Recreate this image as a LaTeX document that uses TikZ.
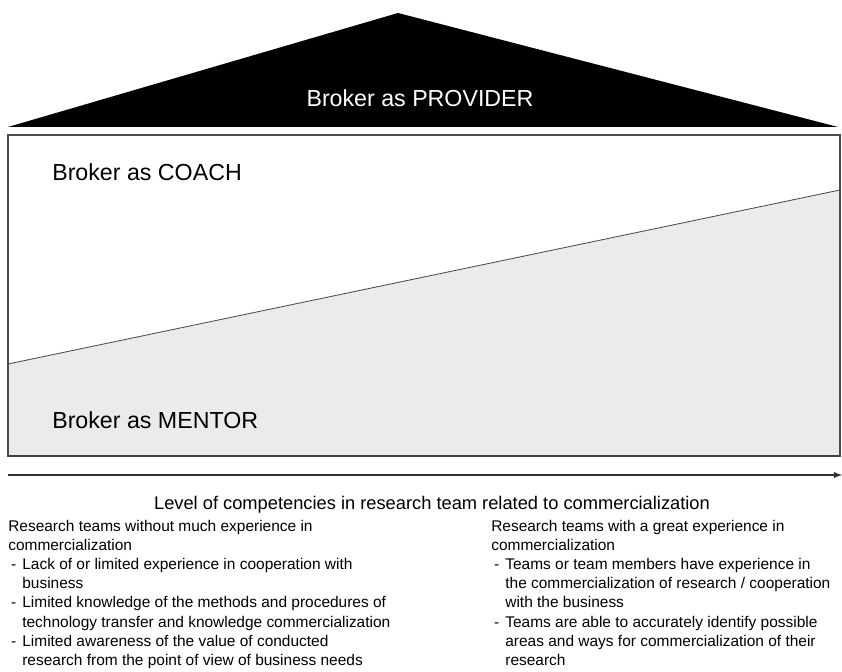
\documentclass[tikz,border=0pt]{standalone}
\usepackage{tikz}
\usepackage{fontspec}
\setmainfont{Liberation Sans}
\newcommand{\bul}{\makebox[10pt][l]{\hspace*{2pt}-}}
\newcommand{\ind}{\hspace*{10pt}}
\begin{document}
\begin{tikzpicture}[x=0.025cm,y=0.025cm,
  roletext/.style={font=\fontsize{16.5}{20}\selectfont,inner sep=0pt},
  listtext/.style={font=\fontsize{11}{13.6}\selectfont,align=left,inner sep=0pt,anchor=north west}]
\useasboundingbox (0,0) rectangle (842,671);
\fill[black!8] (8,307) -- (840,481) -- (840,215) -- (8,215) -- cycle;
\draw[black!70,line width=0.8pt] (8,215) rectangle (840,536);
\draw[black!75,line width=1.2pt] (8,215) -- (840,215);
\draw[black!70,line width=0.6pt] (8,307) -- (840,481);
\fill (8,544) -- (398,658) -- (838,544) -- cycle;
\node at (420,573) [roletext,text=white] (provider) {Broker as PROVIDER};
\node at (52,499) [roletext,anchor=west] (coach) {Broker as COACH};
\node at (52,251) [roletext,anchor=west] (mentor) {Broker as MENTOR};
\coordinate (axisstart) at (8,196);
\coordinate (axisend) at (842,196);
\draw[-latex,line width=1pt,black!80] (axisstart) -- (axisend);
\node at (432,166) [font=\fontsize{13}{16}\selectfont,inner sep=0pt] (level) {Level of competencies in research team related to commercialization};
\node at (8,151) [listtext] (lowteams) {Research teams without much experience in\\
commercialization\\
\bul Lack of or limited experience in cooperation with\\
\ind business\\
\bul Limited knowledge of the methods and procedures of\\
\ind technology transfer and knowledge commercialization\\
\bul Limited awareness of the value of conducted\\
\ind research from the point of view of business needs};
\node at (491,151) [listtext] (highteams) {Research teams with a great experience in\\
commercialization\\
\bul Teams or team members have experience in\\
\ind the commercialization of research / cooperation\\
\ind with the business\\
\bul Teams are able to accurately identify possible\\
\ind areas and ways for commercialization of their\\
\ind research};
\end{tikzpicture}
\end{document}
